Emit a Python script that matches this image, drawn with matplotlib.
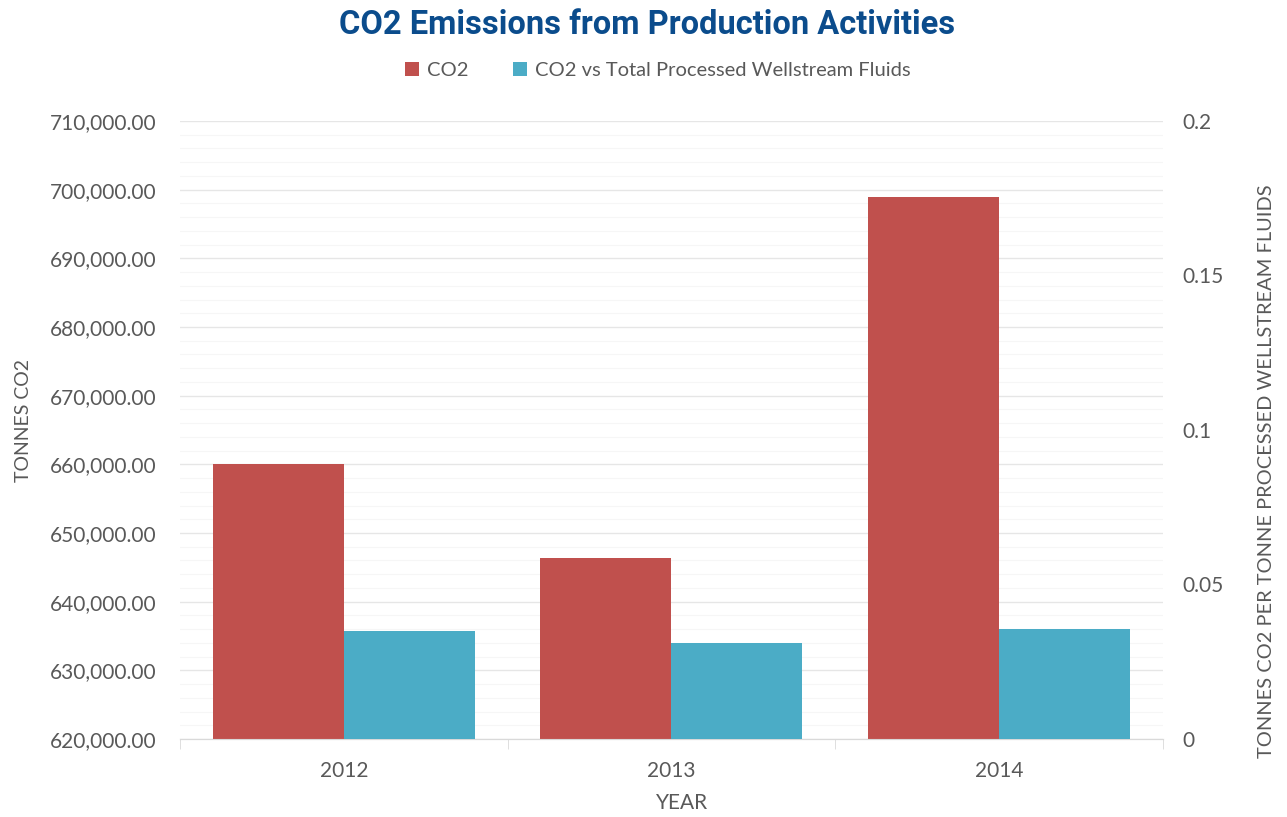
import matplotlib
matplotlib.use('Agg')
import numpy as np
import matplotlib.pyplot as plt
from matplotlib.ticker import FuncFormatter, MultipleLocator

# Data
years = ['2012', '2013', '2014']
co2_tonnes = [660000, 646300, 699000]
co2_per_fluid = [0.035, 0.031, 0.0356]

red = '#C0504D'
teal = '#4BACC6'
grey_text = '#595959'

plt.rcParams['font.family'] = ['Lato', 'DejaVu Sans']

fig = plt.figure(figsize=(12.87, 8.17), dpi=100)
ax = fig.add_axes([0.1399, 0.0955, 0.7635, 0.7564])
ax2 = ax.twinx()

x = np.arange(len(years))
w = 0.4
b1 = ax.bar(x - w / 2, co2_tonnes, width=w, color=red, zorder=3, label='CO2')
b2 = ax2.bar(x + w / 2, co2_per_fluid, width=w, color=teal, zorder=3,
             label='CO2 vs Total Processed Wellstream Fluids')

# Left axis
ax.set_xlim(-0.5, 2.5)
ax.set_ylim(620000, 710000)
ax.yaxis.set_major_locator(MultipleLocator(10000))
ax.yaxis.set_minor_locator(MultipleLocator(2000))
ax.yaxis.set_major_formatter(FuncFormatter(lambda v, p: f'{v:,.2f}'))
ax.grid(axis='y', which='major', color='#e6e6e6', linewidth=1.0, zorder=0)
ax.grid(axis='y', which='minor', color='#f6f6f6', linewidth=0.8, zorder=0)
ax.set_axisbelow(True)

# Right axis
ax2.set_ylim(0, 0.2)
ax2.set_yticks([0, 0.05, 0.1, 0.15, 0.2])
ax2.set_yticklabels(['0', '0.05', '0.1', '0.15', '0.2'])

for a in (ax, ax2):
    for s in ['top', 'left', 'right']:
        a.spines[s].set_visible(False)
    a.spines['bottom'].set_color('#d9d9d9')
    a.tick_params(axis='y', which='both', length=0, labelsize=15, labelcolor=grey_text)

ax.tick_params(axis='y', pad=17)
ax2.tick_params(axis='y', pad=14)

# Category ticks at centres, small marks at the boundaries
ax.set_xticks(x)
ax.set_xticklabels(years)
ax.set_xticks([-0.5, 0.5, 1.5, 2.5], minor=True)
ax.tick_params(axis='x', which='major', length=0, pad=16, labelsize=15, labelcolor=grey_text)
ax.tick_params(axis='x', which='minor', length=7, color='#d9d9d9')

# Axis titles
fig.text(0.5299, 0.017, 'YEAR', ha='center', va='center', fontsize=15, color=grey_text)
fig.text(0.018, 0.485, 'TONNES CO2', ha='center', va='center', rotation=90,
         fontsize=14, color=grey_text)
fig.text(0.9837, 0.4235, 'TONNES CO2 PER TONNE PROCESSED WELLSTREAM FLUIDS', ha='center',
         va='center', rotation=90, fontsize=14.4, color=grey_text)

fig.text(0.503, 0.969, 'CO2 Emissions from Production Activities', ha='center', va='center',
         fontsize=23.5, fontweight='bold', color='#0B4C8C',
         family=['Liberation Sans Narrow', 'Roboto', 'DejaVu Sans'])

fig.legend(handles=[b1, b2], loc='center', bbox_to_anchor=(0.511, 0.914), ncol=2,
           frameon=False, fontsize=14.5, handlelength=0.7, handleheight=0.7,
           handletextpad=0.4, columnspacing=2.2, labelcolor=grey_text)

fig.savefig('out.png', dpi=100)
